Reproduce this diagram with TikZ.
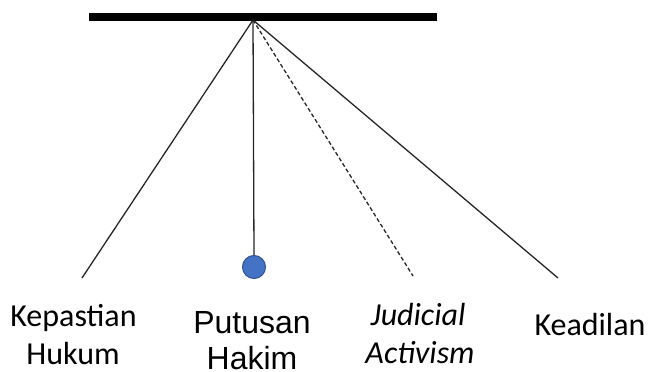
\documentclass[tikz,border=0pt]{standalone}
\usepackage{fontspec}
\newfontfamily\carl{Carlito}
\newfontfamily\arl{Liberation Sans}
\definecolor{bobfill}{RGB}{68,114,196}
\definecolor{bobedge}{RGB}{47,82,143}
\begin{document}
\begin{tikzpicture}[x=1pt,y=1pt,
  lbl/.style={anchor=base,inner sep=0pt,font=\carl\fontsize{32}{32}\selectfont},
  lblI/.style={anchor=base,inner sep=0pt,font=\carl\itshape\fontsize{32}{32}\selectfont},
  lblA/.style={anchor=base,inner sep=0pt,font=\arl\fontsize{32}{32}\selectfont},
  strand/.style={line width=1.3pt,black!85},
  bob/.style={circle,fill=bobfill,draw=bobedge,line width=1pt,minimum size=23pt,inner sep=0pt}]
\useasboundingbox (0,0) rectangle (649,-372);
\coordinate (bl) at (89,-17);
\coordinate (br) at (437,-17);
\draw[line width=8pt] (bl) -- (br);
\coordinate (p) at (253,-20);
\coordinate (e1) at (82,-278);
\coordinate (e3) at (413,-276);
\coordinate (e4) at (558,-278);
\node[bob] (b) at (254,-267) {};
\draw[strand] (p) -- (e1);
\draw[strand] (p) -- (b.north);
\draw[strand,dash pattern=on 4pt off 2.5pt] (p) -- (e3);
\draw[strand] (p) -- (e4);
\node[lbl] (t1) at (73.5,-326) {Kepastian};
\node[lbl] (t2) at (73,-364) {Hukum};
\node[lblA] (t3) at (252,-333) {Putusan};
\node[lblA] (t4) at (252,-369) {Hakim};
\node[lblI] (t5) at (418,-325) {Judicial};
\node[lblI] (t6) at (420,-363) {Activism};
\node[lbl] (t7) at (590,-335) {Keadilan};
\end{tikzpicture}
\end{document}
